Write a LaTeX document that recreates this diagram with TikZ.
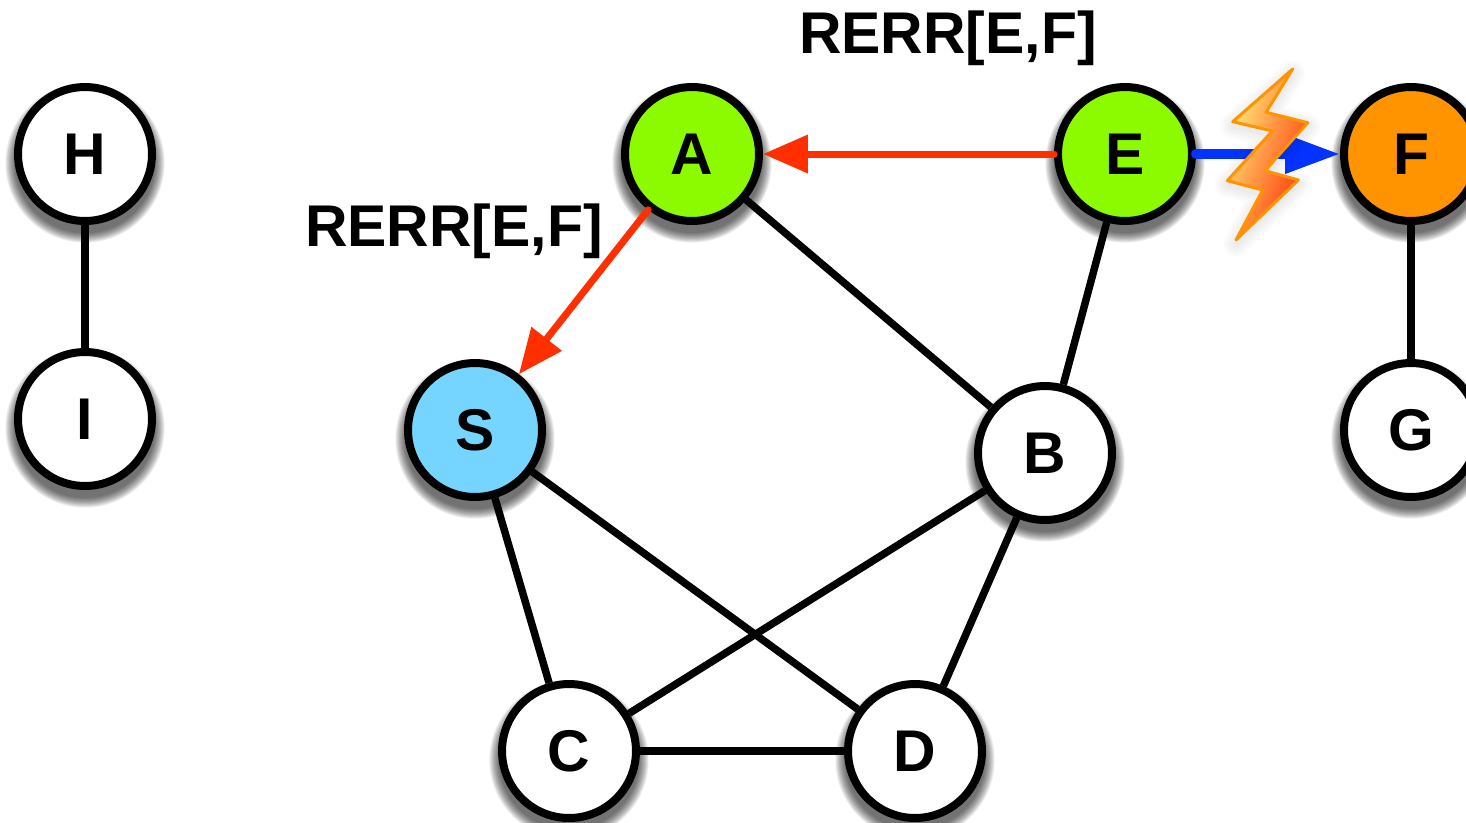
\documentclass[tikz,border=0pt]{standalone}
\usepackage{fontspec}
\setmainfont{Liberation Sans}
\usetikzlibrary{arrows.meta}
\definecolor{limegreen}{HTML}{8CFB00}
\definecolor{skyblue}{HTML}{75D5FF}
\definecolor{tangerine}{HTML}{FF9300}
\definecolor{rerrred}{HTML}{FF2F00}
\definecolor{linkblue}{HTML}{0433FF}
\definecolor{boltyellow}{HTML}{FFF080}
\definecolor{boltmid}{HTML}{FF9A48}
\definecolor{boltred}{HTML}{FF2E00}
\newcommand{\boltpath}{(1292.7,69) -- (1266,112.3) -- (1307.7,122.7) -- (1265,170.7) -- (1298.3,180) -- (1236,240)
    -- (1262.7,190) -- (1227.3,180.7) -- (1272.3,131) -- (1232.7,121.7) -- cycle}

\begin{document}
\begin{tikzpicture}
  [x=0.02cm, y=-0.02cm,
  host/.style={circle,draw=black,fill=white,line width=0.16cm,inner sep=0pt,minimum size=2.68cm,
    font=\fontsize{33.5}{36}\bfseries\selectfont},
  greenhost/.style={host,fill=limegreen},
  hostshadow/.style={fill=black,opacity=0.055},
  link/.style={black,line width=0.15cm},
  rerr/.style={rerrred,line width=0.14cm,line cap=round,-{Triangle[length=0.9cm,width=0.74cm]}},
  lbl/.style={font=\fontsize{33.5}{36}\bfseries\selectfont,inner sep=0pt}]
  \clip (0,0) rectangle (1466,822);

  % shadows
  \foreach \x/\y in {85/154,85/419,692/154,1125/154,1411/154,475/430,1045/453,1411/430,569/751,915/751}
    \foreach \r in {2.8,2.83,...,3.2}
      \fill [hostshadow] (\x,\y+9) circle [radius=\r cm*0.5];

  \node[host] (H) at (85,154) {H};
  \node[host] (I) at (85,419) {I};

  \node[greenhost] (A) at (692,154) {A};
  \node[greenhost] (E) at (1125,154) {E};
  \node[host,fill=tangerine] (F) at (1411,154) {F};
  \node[host,fill=skyblue] (S) at (475,430) {S};
  \node[host] (B) at (1045,453) {B};
  \node[host] (G) at (1411,430) {G};
  \node[host] (C) at (569,751) {C};
  \node[host] (D) at (915,751) {D};

  \draw [link] (H) -- (I);
  \draw [link] (F) -- (G);
  \draw [link] (A) -- (B);
  \draw [link] (E) -- (B);
  \draw [link] (B) -- (C);
  \draw [link] (B) -- (D);
  \draw [link] (S) -- (C);
  \draw [link] (S) -- (D);
  \draw [link] (C) -- (D);

  \draw [rerr] (E) -- (A);
  \draw [rerr] (A) -- (S);
  \draw [linkblue,line width=0.2cm,line cap=round,-{Triangle[length=1.1cm,width=0.74cm]}] (E) -- (F);

  \node[lbl] (rerr1) at (948,38) {RERR[E,F]};
  \node[lbl] (rerr2) at (454,231) {RERR[E,F]};

  % bolt
  \foreach \w in {0.1,0.2,...,0.5}
    \draw [black,opacity=0.015,line width=\w cm,line join=round,yshift=-0.08cm] \boltpath;
  \shadedraw [draw=tangerine,line width=0.06cm,line join=round,left color=boltyellow,middle color=boltmid,right color=boltred,shading angle=70]
    \boltpath;
\end{tikzpicture}
\end{document}
